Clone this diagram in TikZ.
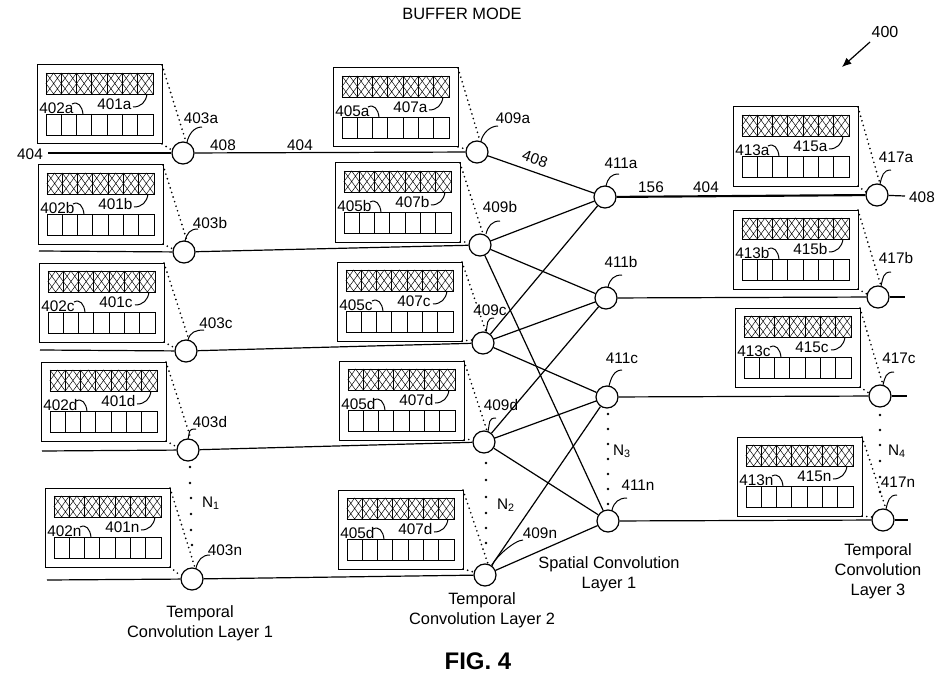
\documentclass[tikz,border=0pt]{standalone}
\usepackage{fontspec}
\setmainfont{Liberation Sans}
\usetikzlibrary{arrows.meta}
\tikzset{
  neuron/.style={circle,draw,line width=0.9pt,minimum size=16.5pt,inner sep=0pt,fill=white},
  lbl/.style={font=\fontsize{11.5}{13}\selectfont,inner sep=0pt},
  ttl/.style={font=\fontsize{12.3}{15}\selectfont,align=center,inner sep=0pt},
  conn/.style={line width=0.9pt},
  thickconn/.style={line width=1.6pt},
  cone/.style={line width=1.4pt,line cap=round,dash pattern=on 0pt off 3.6pt},
  leadline/.style={line width=0.75pt},
  boxline/.style={line width=0.75pt},
  cellline/.style={line width=0.6pt},
  hatchline/.style={line width=0.35pt},
}
\newcommand\bufbox[4]{%
 \begin{scope}[shift={(#1,#2)}]
  \draw[boxline] (0,0) rectangle (125,79);
  \draw[cellline] (9,8) rectangle (116,29) (9,49) rectangle (116,70);
  \foreach \i in {1,...,6}{\draw[cellline] ({9+\i*107/7},8) -- ({9+\i*107/7},29) ({9+\i*107/7},49) -- ({9+\i*107/7},70);}
  \foreach \i in {0,...,6}{%
    \pgfmathsetmacro\xa{9+\i*107/7}\pgfmathsetmacro\xb{9+(\i+1)*107/7}\pgfmathsetmacro\xm{9+(\i+0.5)*107/7}%
    \draw[hatchline] (\xa,8) -- (\xb,29) (\xa,29) -- (\xb,8) (\xm,8) -- (\xb,18.5) -- (\xm,29) -- (\xa,18.5) -- cycle;}
  \node[lbl,anchor=west] (t#3) at (2,43) {#3};
  \node[lbl,anchor=west] (t#4) at (60,39) {#4};
  \draw[leadline] (35,39) .. controls (41,36) and (45,41) .. (46,49);
  \draw[leadline] (96,42) .. controls (104,42) and (109,37) .. (110,29);
 \end{scope}}
% cone: top-right corner x, y, node
\newcommand\bufcone[3]{%
  \draw[cone] (#1,#2) -- (#3.75);
  \draw[cone] (#1,{#2+79}) -- (#3.165);}
% node label with leader: name, text, tx, ty, sx, sy, ex, ey
\newcommand\nlab[8]{%
  \node[lbl] (#1) at (#3,#4) {#2};
  \draw[leadline] (#5,#6) .. controls ({#5-8},#6) and ({#7+2},{#8-8}) .. (#7,#8);}
\begin{document}
\begin{tikzpicture}[x=0.75pt,y=-0.75pt]
\useasboundingbox (0,0) rectangle (940,674);

% title and reference
\node[ttl] (title) at (462,14) {BUFFER MODE};
\node[lbl,font=\fontsize{12}{14}\selectfont] (ref400) at (885,32) {400};
\coordinate (arrS) at (870,42);
\coordinate (arrE) at (842,67);
\draw[line width=0.9pt,-{Latex[length=7pt,width=6pt]}] (arrS) -- (arrE);

% buffer boxes
\bufbox{37}{65}{402a}{401a}
\bufbox{38}{165}{402b}{401b}
\bufbox{39}{263}{402c}{401c}
\bufbox{41}{362}{402d}{401d}
\bufbox{45}{488}{402n}{401n}

\bufbox{333}{68}{405a}{407a}
\bufbox{335}{163}{405b}{407b}
\bufbox{337}{262}{405c}{407c}
\bufbox{339}{361}{405d}{407d}
\bufbox{338}{490}{405d}{407d}

\bufbox{733}{107}{413a}{415a}
\bufbox{733}{210}{413b}{415b}
\bufbox{735}{308}{413c}{415c}
\bufbox{737}{437}{413n}{415n}

% neurons
\node[neuron] (n403a) at (183,153) {};
\node[neuron] (n403b) at (184,252) {};
\node[neuron] (n403c) at (186,351) {};
\node[neuron] (n403d) at (188,450) {};
\node[neuron] (n403n) at (192,579) {};

\node[neuron] (n409a) at (477,152) {};
\node[neuron] (n409b) at (480,245) {};
\node[neuron] (n409c) at (483,343) {};
\node[neuron] (n409d) at (484,442) {};
\node[neuron] (n409n) at (485,575) {};

\node[neuron] (n411a) at (605,197) {};
\node[neuron] (n411b) at (606,298) {};
\node[neuron] (n411c) at (607,397) {};
\node[neuron] (n411n) at (608,521) {};

\node[neuron] (n417a) at (877,195) {};
\node[neuron] (n417b) at (878,297) {};
\node[neuron] (n417c) at (880,396) {};
\node[neuron] (n417n) at (883,520) {};

% inputs
\node[lbl] (in404) at (30,154) {404};
\coordinate (ina) at (48,153);
\coordinate (inb) at (39,251);
\coordinate (inc) at (40,350);
\coordinate (ind) at (42,451);
\coordinate (inn) at (47,580);
\draw[conn] (ina) -- (n403a);
\draw[conn] (inb) -- (n403b);
\draw[conn] (inc) -- (n403c);
\draw[conn] (ind) -- (n403d);
\draw[conn] (inn) -- (n403n);

% layer 1 -> layer 2
\draw[conn] (n403a) -- (n409a);
\draw[conn] (n403b) -- (n409b);
\draw[conn] (n403c) -- (n409c);
\draw[conn] (n403d) -- (n409d);
\draw[conn] (n403n) -- (n409n);
\node[lbl] (l408a) at (223,145) {408};
\node[lbl] (l404a) at (300,145) {404};

% layer 2 -> spatial layer
\draw[conn] (n409a) -- (n411a);
\draw[conn] (n409b) -- (n411a);
\draw[conn] (n409b) -- (n411b);
\draw[conn] (n409b) -- (n411n);
\draw[conn] (n409c) -- (n411a);
\draw[conn] (n409c) -- (n411b);
\draw[conn] (n409c) -- (n411c);
\draw[conn] (n409d) -- (n411b);
\draw[conn] (n409d) -- (n411c);
\draw[conn] (n409d) -- (n411n);
\draw[conn] (n409n) -- (n411c);
\draw[conn] (n409n) -- (n411n);
\node[lbl,rotate=-19.5] (l408b) at (535,159) {408};

% spatial -> layer 3
\draw[thickconn] (n411a) -- (n417a);
\draw[conn] (n411b) -- (n417b);
\draw[conn] (n411c) -- (n417c);
\draw[conn] (n411n) -- (n417n);
\node[lbl] (l156) at (651,187) {156};
\node[lbl] (l404c) at (706,187) {404};

% outputs
\coordinate (outa) at (905,196);
\coordinate (outb) at (905,297);
\coordinate (outc) at (907,396);
\coordinate (outn) at (908,520);
\draw[conn] (n417a) -- (outa);
\draw[conn] (n417b) -- (outb);
\draw[conn] (n417c) -- (outc);
\draw[conn] (n417n) -- (outn);
\node[lbl] (l408c) at (922,197) {408};

% dotted cones from buffers to neurons
\bufcone{162}{65}{n403a}
\bufcone{163}{165}{n403b}
\bufcone{164}{263}{n403c}
\bufcone{166}{362}{n403d}
\bufcone{170}{488}{n403n}
\bufcone{458}{68}{n409a}
\bufcone{460}{163}{n409b}
\bufcone{462}{262}{n409c}
\bufcone{464}{361}{n409d}
\bufcone{463}{490}{n409n}
\bufcone{858}{107}{n417a}
\bufcone{858}{210}{n417b}
\bufcone{860}{308}{n417c}
\bufcone{862}{437}{n417n}

% neuron labels
\nlab{l403a}{403a}{201}{118}{202}{127}{187}{142}
\nlab{l403b}{403b}{210}{223}{198}{229}{185}{241}
\nlab{l403c}{403c}{216}{323}{204}{330}{188}{340}
\nlab{l403d}{403d}{210}{422}{196}{429}{188}{439}
\nlab{l403n}{403n}{225}{550}{210}{555}{196}{568}
\nlab{l409a}{409a}{513}{118}{498}{126}{481}{141}
\nlab{l409b}{409b}{500}{207}{500}{221}{486}{234}
\nlab{l409c}{409c}{490}{310}{494}{318}{486}{332}
\nlab{l409d}{409d}{501}{405}{496}{418}{488}{431}
\nlab{l409n}{409n}{540}{533}{523}{540}{492}{566}
\nlab{l411a}{411a}{621}{163}{619}{174}{606}{186}
\nlab{l411b}{411b}{621}{262}{622}{275}{608}{287}
\nlab{l411c}{411c}{622}{358}{622}{370}{609}{386}
\nlab{l411n}{411n}{638}{485}{627}{498}{612}{510}
\nlab{l417a}{417a}{896}{157}{891}{170}{880}{184}
\nlab{l417b}{417b}{896}{258}{891}{272}{881}{286}
\nlab{l417c}{417c}{899}{358}{894}{372}{883}{385}
\nlab{l417n}{417n}{898}{482}{897}{495}{886}{509}

% ellipsis dots
\foreach \y/\x in {467/190,483/190,498/191,514/191,530/191,545/192}{\fill (\x,\y) circle[radius=1.1pt];}
\foreach \y in {463,480,497,513,528,543}{\fill (486,\y) circle[radius=1.1pt];}
\foreach \y in {414,429,444,459,474,489,504}{\fill (608,\y) circle[radius=1.1pt];}
\foreach \y in {415,430,445,461,477,492}{\fill (880,\y) circle[radius=1.1pt];}
\node[lbl] (N1) at (211,503) {N\textsubscript{1}};
\node[lbl] (N2) at (506,505) {N\textsubscript{2}};
\node[lbl] (N3) at (622,451) {N\textsubscript{3}};
\node[lbl] (N4) at (897,451) {N\textsubscript{4}};

% layer captions
\node[ttl] (cap1) at (200,623) {Temporal\\Convolution Layer 1};
\node[ttl] (cap2) at (482,610) {Temporal\\Convolution Layer 2};
\node[ttl] (cap3) at (609,574) {Spatial Convolution\\Layer 1};
\node[ttl] (cap4) at (878,571) {Temporal\\Convolution\\Layer 3};
\node[font=\fontsize{18}{20}\selectfont\bfseries,inner sep=0pt] (fig) at (478,661) {FIG. 4};
\end{tikzpicture}
\end{document}
